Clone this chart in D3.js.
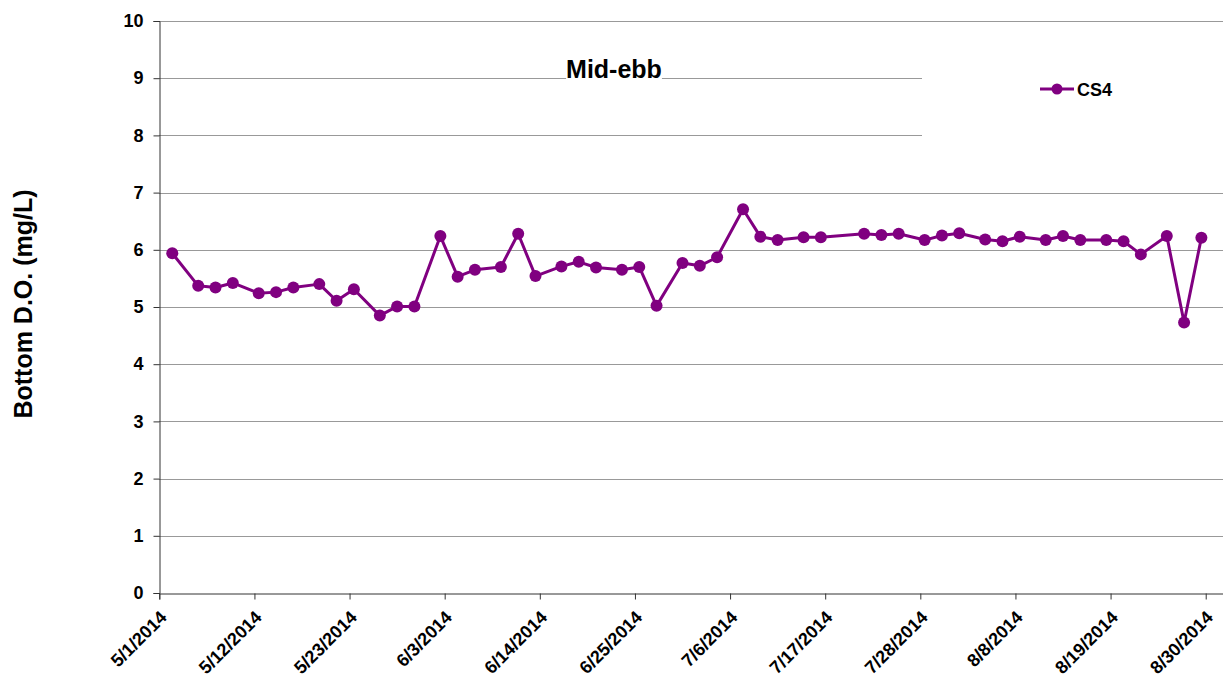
<!DOCTYPE html>
<html>
<head>
<meta charset="utf-8">
<script src="https://cdn.jsdelivr.net/npm/d3@7/dist/d3.min.js"></script>
<style>
  html, body { margin: 0; padding: 0; background: #fff; }
  svg { display: block; font-family: "Liberation Sans", Arial, sans-serif; }
</style>
</head>
<body>
<svg id="chart" width="1223" height="682"></svg>
<script>
// ---- data ----
const sampleDates = [
  "2014-05-02","2014-05-05","2014-05-07","2014-05-09","2014-05-12","2014-05-14","2014-05-16",
  "2014-05-19","2014-05-21","2014-05-23","2014-05-26","2014-05-28","2014-05-30",
  "2014-06-02","2014-06-04","2014-06-06","2014-06-09","2014-06-11","2014-06-13",
  "2014-06-16","2014-06-18","2014-06-20","2014-06-23","2014-06-25","2014-06-27","2014-06-30",
  "2014-07-02","2014-07-04","2014-07-07","2014-07-09","2014-07-11","2014-07-14","2014-07-16",
  "2014-07-21","2014-07-23","2014-07-25","2014-07-28","2014-07-30",
  "2014-08-01","2014-08-04","2014-08-06","2014-08-08","2014-08-11","2014-08-13","2014-08-15",
  "2014-08-18","2014-08-20","2014-08-22","2014-08-25","2014-08-27","2014-08-29"
];
const cs4Values = [
  5.94, 5.37, 5.34, 5.42, 5.24, 5.26, 5.34,
  5.40, 5.11, 5.31, 4.85, 5.01, 5.01,
  6.24, 5.53, 5.65, 5.70, 6.28, 5.54,
  5.71, 5.79, 5.69, 5.65, 5.70, 5.02, 5.77,
  5.72, 5.87, 6.71, 6.23, 6.17, 6.22, 6.22,
  6.28, 6.26, 6.28, 6.17, 6.25,
  6.29, 6.18, 6.15, 6.23, 6.17, 6.24, 6.17,
  6.17, 6.15, 5.92, 6.24, 4.73, 6.21
];
const xTickLabels = ["5/1/2014","5/12/2014","5/23/2014","6/3/2014","6/14/2014","6/25/2014",
  "7/6/2014","7/17/2014","7/28/2014","8/8/2014","8/19/2014","8/30/2014"];
const yTickValues = [0,1,2,3,4,5,6,7,8,9,10];
const seriesName = "CS4";
const chartTitle = "Mid-ebb";
const yAxisTitle = "Bottom D.O. (mg/L)";

// ---- setup ----
const svg = d3.select("#chart");
const color = "#800080";
const FONT = '"Liberation Sans", Arial, sans-serif';
const parseISO = s => { const [y,m,d] = s.split("-").map(Number); return new Date(Date.UTC(y, m-1, d)); };
const parseMDY = s => { const [m,d,y] = s.split("/").map(Number); return new Date(Date.UTC(y, m-1, d)); };

const x = d3.scaleUtc()
  .domain([new Date(Date.UTC(2014,4,1)), new Date(Date.UTC(2014,8,1))])
  .range([159.3, 1223]);
const y = d3.scaleLinear().domain([0, 10]).range([593, 21]);

const points = sampleDates.map((s, i) => ({ date: d3.utcHour.offset(parseISO(s), 12), value: cs4Values[i] }));

// gridlines
svg.append("g").selectAll("line")
  .data(yTickValues.filter(v => v > 0))
  .join("line")
  .attr("x1", 159.5).attr("x2", 1223)
  .attr("y1", d => Math.round(y(d)) + 0.5).attr("y2", d => Math.round(y(d)) + 0.5)
  .attr("stroke", "#333").attr("stroke-width", 1).attr("stroke-dasharray", "1,1");

// white legend area
svg.append("rect").attr("x", 922).attr("y", 36).attr("width", 301).attr("height", 145).attr("fill", "#fff");

// axes
const yAxis = d3.axisLeft(y).tickValues(yTickValues).tickSize(6).tickPadding(10).tickFormat(d3.format("d"));
const gy = svg.append("g").attr("transform", "translate(159.5,0)").call(yAxis);
gy.attr("font-size", null).attr("font-family", null);
gy.select(".domain").attr("stroke", "#333");
gy.selectAll(".tick line").attr("stroke", "#333");
gy.selectAll(".tick text").style("font-size", "18px").style("font-weight", "bold").attr("fill", "#000")
  .style("font-family", FONT);

const xAxis = d3.axisBottom(x).tickValues(xTickLabels.map(parseMDY)).tickSize(6)
  .tickFormat((d, i) => xTickLabels[i]);
const gx = svg.append("g").attr("transform", "translate(0,593.5)").call(xAxis);
gx.attr("font-size", null).attr("font-family", null);
gx.select(".domain").attr("stroke", "#333");
gx.selectAll(".tick line").attr("stroke", "#333");
gx.selectAll(".tick text")
  .style("font-size", "18px").style("font-weight", "bold").attr("fill", "#000")
  .style("font-family", FONT)
  .attr("text-anchor", "end")
  .attr("dy", null).attr("y", null)
  .attr("transform", "translate(8,25) rotate(-45)");

// line
const line = d3.line().x(d => x(d.date)).y(d => y(d.value));
svg.append("path").datum(points)
  .attr("d", line).attr("fill", "none").attr("stroke", color).attr("stroke-width", 3)
  .attr("stroke-linejoin", "round");

svg.append("g").selectAll("circle").data(points).join("circle")
  .attr("cx", d => x(d.date)).attr("cy", d => y(d.value)).attr("r", 6).attr("fill", color);

// title with tight white background
const titleBg = svg.append("rect").attr("fill", "#fff");
const title = svg.append("text").attr("x", 614).attr("y", 78).attr("text-anchor", "middle")
  .style("font-size", "25px").style("font-weight", "bold").style("font-family", FONT).text(chartTitle);
const tb = title.node().getBBox();
titleBg.attr("x", tb.x).attr("y", tb.y).attr("width", tb.width).attr("height", tb.height);

// y axis title
svg.append("text").attr("transform", "translate(32,304) rotate(-90)").attr("text-anchor", "middle")
  .style("font-size", "25px").style("font-weight", "bold").style("font-family", FONT).text(yAxisTitle);

// legend
const lg = svg.append("g");
lg.append("line").attr("x1", 1040).attr("x2", 1074).attr("y1", 89).attr("y2", 89)
  .attr("stroke", color).attr("stroke-width", 3);
lg.append("circle").attr("cx", 1057).attr("cy", 89).attr("r", 5.5).attr("fill", color);
lg.append("text").attr("x", 1077).attr("y", 96).style("font-size", "18px").style("font-weight", "bold")
  .style("font-family", FONT).text(seriesName);
</script>
</body>
</html>
